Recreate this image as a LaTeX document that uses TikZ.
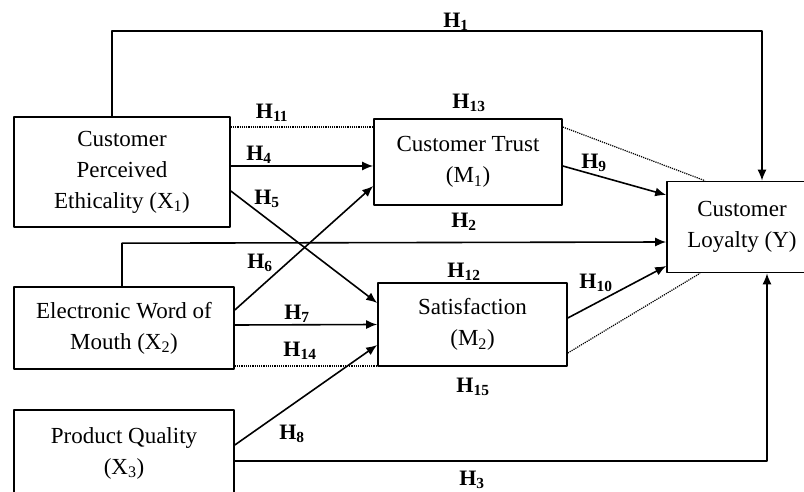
\documentclass[tikz,border=0pt]{standalone}
\usepackage{fontspec}
\setmainfont{Liberation Serif}
\usetikzlibrary{arrows.meta}
\tikzset{
  var box/.style={
    draw,
    align=center,
    inner sep=0pt,
    font=\fontsize{23}{31}\selectfont
  },
  hyp label/.style={
    font=\fontsize{22}{24}\selectfont\bfseries,
    inner sep=1pt
  },
  path arrow/.style={
    -{Latex[length=11pt,width=9pt]}
  },
  mediation/.style={
    densely dotted,
    line width=1.2
  }
}

\begin{document}
\begin{tikzpicture}[x=1pt,y=-1pt,line width=1.6,line join=round]
\useasboundingbox (0,0) rectangle (804,492);
%\draw[help lines] (0,0) grid[step=50] (804,492);
\node[var box,minimum width=216pt,minimum height=110pt] (x1) at (122,172)
  {Customer\\Perceived\\Ethicality (X\textsubscript{1})};
\node[var box,minimum width=220pt,minimum height=82pt] (x2) at (124,328)
  {Electronic Word of\\Mouth (X\textsubscript{2})};
\node[var box,minimum width=220pt,minimum height=86pt] (x3) at (124,453)
  {Product Quality\\(X\textsubscript{3})};
\node[var box,minimum width=188pt,minimum height=86pt] (m1) at (468,162)
  {Customer Trust\\(M\textsubscript{1})};
\node[var box,minimum width=189pt,minimum height=83pt] (m2) at (472.5,324.5)
  {Satisfaction\\(M\textsubscript{2})};
\node[var box,minimum width=150pt,minimum height=91pt] (y) at (742,227)
  {Customer\\Loyalty (Y)};

\draw[path arrow] ([xshift=-10]x1.north) -- ++(0,-85) -| ([xshift=20]y.north);
\draw[path arrow] ([xshift=-2]x2.north) -- ++(0,-43) -- ([yshift=-15]y.west);
\draw[path arrow] ([yshift=-8]x3.east) -| ([xshift=25]y.south);
\draw[path arrow] ([yshift=6]x1.east) -- ([yshift=-4]m1.west);
\draw[path arrow] ([yshift=-19]x1.east) -- ([yshift=21.5]m2.west);
\draw[path arrow] ([yshift=18]x2.east) -- ([yshift=-24]m1.west);
\draw[path arrow] ([yshift=3]x2.east) -- (m2.west);
\draw[path arrow] ([yshift=8]x3.east) -- ([yshift=-20.5]m2.west);
\draw[path arrow] ([yshift=-4]m1.east) -- ([yshift=32]y.west);
\draw[path arrow] ([yshift=6.5]m2.east) -- ([yshift=-39]y.west);
\draw[mediation] ([yshift=45]x1.east) -- ([yshift=35]m1.west);
\draw[mediation] ([yshift=-38]x2.east) -- ([yshift=-41.5]m2.west);
\draw[mediation] ([yshift=35]m1.east) -- ([xshift=-37]y.north);
\draw[mediation] ([yshift=-28.5]m2.east) -- ([xshift=-42]y.south);

\node[hyp label] (h1)  at (456,22)  {H\textsubscript{1}};
\node[hyp label] (h2)  at (464,222) {H\textsubscript{2}};
\node[hyp label] (h3)  at (472,480) {H\textsubscript{3}};
\node[hyp label] (h4)  at (259,155) {H\textsubscript{4}};
\node[hyp label] (h5)  at (267,199) {H\textsubscript{5}};
\node[hyp label] (h6)  at (260,263) {H\textsubscript{6}};
\node[hyp label] (h7)  at (297,314) {H\textsubscript{7}};
\node[hyp label] (h8)  at (292,434) {H\textsubscript{8}};
\node[hyp label] (h9)  at (594,163) {H\textsubscript{9}};
\node[hyp label] (h10) at (596,283) {H\textsubscript{10}};
\node[hyp label] (h11) at (272,113) {H\textsubscript{11}};
\node[hyp label] (h12) at (464,272) {H\textsubscript{12}};
\node[hyp label] (h13) at (469,103) {H\textsubscript{13}};
\node[hyp label] (h14) at (300,351) {H\textsubscript{14}};
\node[hyp label] (h15) at (473,387) {H\textsubscript{15}};
\end{tikzpicture}
\end{document}
